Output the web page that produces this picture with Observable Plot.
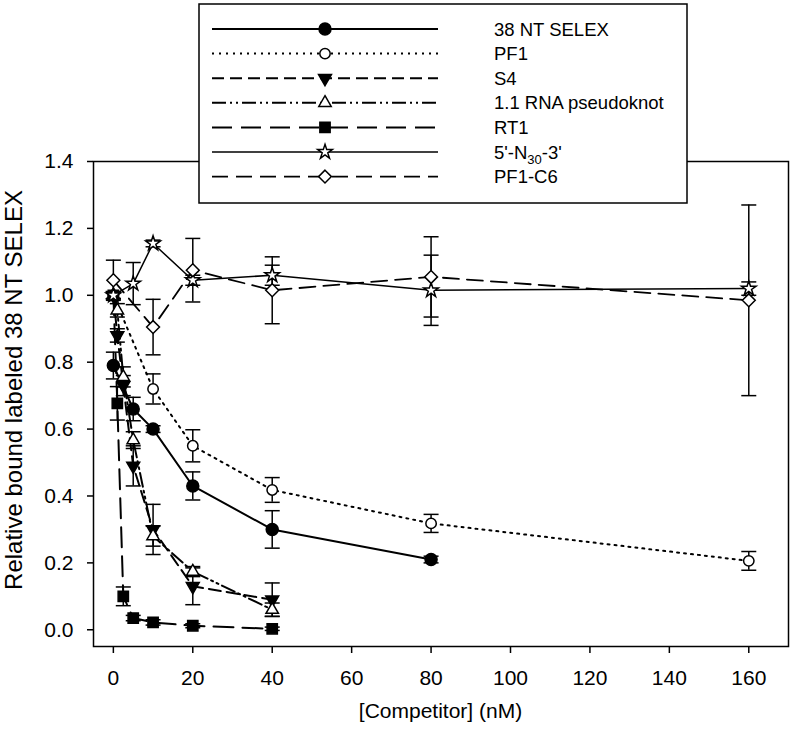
<!DOCTYPE html>
<html><head><meta charset="utf-8">
<script src="https://cdn.jsdelivr.net/npm/d3@7"></script>
<script src="https://cdn.jsdelivr.net/npm/@observablehq/plot@0.6"></script>
<style>body{margin:0;background:#fff}#chart{width:792px;height:738px}</style>
</head><body><div id="chart"></div>
<script>
// ---- data ----
const seriesNames = ["38 NT SELEX", "PF1", "S4", "1.1 RNA pseudoknot", "RT1", "5'-N30-3'", "PF1-C6"];
const xTicks = [0, 20, 40, 60, 80, 100, 120, 140, 160];
const yTicks = [0.0, 0.2, 0.4, 0.6, 0.8, 1.0, 1.2, 1.4];
const xLabel = "[Competitor] (nM)";
const yLabel = "Relative bound labeled 38 NT SELEX";

const sel38X = [0, 5, 10, 20, 40, 80];
const sel38Y = [0.79, 0.66, 0.60, 0.43, 0.30, 0.21];
const sel38E = [0.04, 0.035, 0.01, 0.042, 0.056, 0.01];

const pf1X = [0, 10, 20, 40, 80, 160];
const pf1Y = [1.0, 0.72, 0.55, 0.418, 0.318, 0.206];
const pf1E = [0.0, 0.045, 0.048, 0.037, 0.027, 0.028];

const s4X = [0, 1, 2.5, 5, 10, 20, 40];
const s4Y = [1.0, 0.88, 0.73, 0.49, 0.30, 0.13, 0.09];
const s4E = [0.01, 0.02, 0.03, 0.06, 0.075, 0.055, 0.05];

const rnaX = [0, 1, 2.5, 5, 10, 20, 40];
const rnaY = [1.0, 0.955, 0.756, 0.567, 0.28, 0.174, 0.06];
const rnaE = [0.01, 0.02, 0.03, 0.025, 0.03, 0.015, 0.02];

const rt1X = [0, 1, 2.5, 5, 10, 20, 40];
const rt1Y = [1.0, 0.677, 0.10, 0.035, 0.022, 0.012, 0.003];
const rt1E = [0.01, 0.05, 0.028, 0.008, 0.008, 0.006, 0.005];

const n30X = [0, 5, 10, 20, 40, 80, 160];
const n30Y = [1.0, 1.035, 1.155, 1.045, 1.06, 1.015, 1.02];
const n30E = [0.01, 0.063, 0.01, 0.015, 0.03, 0.105, 0.02];

const c6X = [0, 10, 20, 40, 80, 160];
const c6Y = [1.045, 0.905, 1.075, 1.015, 1.055, 0.985];
const c6E = [0.06, 0.083, 0.095, 0.1, 0.12, 0.285];

const seriesData = [
  [sel38X, sel38Y, sel38E], [pf1X, pf1Y, pf1E], [s4X, s4Y, s4E], [rnaX, rnaY, rnaE],
  [rt1X, rt1Y, rt1E], [n30X, n30Y, n30E], [c6X, c6Y, c6E]
];

// ---- styles ----
const triDown = {draw(ctx, size) {
  const y = -Math.sqrt(size / (Math.sqrt(3) * 3));
  ctx.moveTo(0, -y * 2); ctx.lineTo(-Math.sqrt(3) * y, y); ctx.lineTo(Math.sqrt(3) * y, y); ctx.closePath();
}};
const cap = {draw(ctx) { ctx.moveTo(-7.5, 0); ctx.lineTo(7.5, 0); }};
const symMap = {circle: d3.symbolCircle, triangle: d3.symbolTriangle, square: d3.symbolSquare, star: d3.symbolStar, diamond2: d3.symbolDiamond2};

const styles = [
  {symbol: "circle", fill: "black", r: 6, dash: null, sw: 2},
  {symbol: "circle", fill: "white", r: 5.2, dash: "2,5", sw: 2},
  {symbol: triDown, fill: "black", r: 4.8, dash: "12,6", sw: 2},
  {symbol: "triangle", fill: "white", r: 4.6, dash: "14,4,2,4,2,4", sw: 2},
  {symbol: "square", fill: "black", r: 5.8, dash: "20,9", sw: 2},
  {symbol: "star", fill: "white", r: 4.6, dash: null, sw: 1.5},
  {symbol: "diamond2", fill: "white", r: 5.8, dash: "16,8", sw: 1.8}
];

const rows = seriesNames.map((name, i) => seriesData[i][0].map((x, j) => ({
  name, x, y: seriesData[i][1][j], e: seriesData[i][2][j]
})));

const marks = [];
rows.forEach((data, i) => {
  const s = styles[i];
  marks.push(Plot.line(data, {x: "x", y: "y", stroke: "black", strokeWidth: s.sw, strokeDasharray: s.dash}));
});
rows.forEach((data, i) => {
  const eb = data.filter(d => d.e > 0);
  marks.push(Plot.ruleX(eb, {x: "x", y1: d => d.y - d.e, y2: d => d.y + d.e, stroke: "black", strokeWidth: 1.5}));
  marks.push(Plot.dot(eb, {x: "x", y: d => d.y - d.e, symbol: cap, stroke: "black", strokeWidth: 1.5, fill: "none"}));
  marks.push(Plot.dot(eb, {x: "x", y: d => d.y + d.e, symbol: cap, stroke: "black", strokeWidth: 1.5, fill: "none"}));
});
rows.forEach((data, i) => {
  const s = styles[i];
  marks.push(Plot.dot(data, {x: "x", y: "y", symbol: s.symbol, r: s.r, fill: s.fill, stroke: "black", strokeWidth: 1.5}));
});

const plot = Plot.plot({
  width: 792, height: 738,
  marginTop: 161, marginRight: 4, marginBottom: 92, marginLeft: 93,
  style: {fontFamily: "'Liberation Sans', Arial, sans-serif", fontSize: "21px", background: "white", color: "black"},
  x: {domain: [-5, 170]},
  y: {domain: [-0.05, 1.4]},
  marks: [
    Plot.frame({stroke: "black", strokeWidth: 1.5}),
    Plot.axisX({ticks: xTicks, tickSize: 7, tickPadding: 17, label: null, tickFormat: d3.format("d"), strokeWidth: 1.5}),
    Plot.axisY({ticks: yTicks, tickSize: 6, tickPadding: 14, label: null, tickFormat: d3.format(".1f"), strokeWidth: 1.5}),
    ...marks
  ]
});
document.getElementById("chart").appendChild(plot);

// ---- axis titles & legend ----
const svg = d3.select(plot);
svg.append("text").attr("x", 93 + (792 - 4 - 93) / 2).attr("y", 718)
  .attr("text-anchor", "middle").style("font-size", "21px").attr("fill", "black").text(xLabel);
svg.append("text").attr("transform", "translate(22,390) rotate(-90)")
  .attr("text-anchor", "middle").style("font-size", "24px").attr("fill", "black").text(yLabel);

const lg = svg.append("g");
lg.append("rect").attr("x", 199).attr("y", 4).attr("width", 488).attr("height", 199)
  .attr("fill", "white").attr("stroke", "black").attr("stroke-width", 1.5);
seriesNames.forEach((name, i) => {
  const s = styles[i];
  const yy = 29 + i * 24.6;
  lg.append("line").attr("x1", 212).attr("x2", 438).attr("y1", yy).attr("y2", yy)
    .attr("stroke", "black").attr("stroke-width", s.sw).attr("stroke-dasharray", s.dash);
  const type = typeof s.symbol === "string" ? symMap[s.symbol] : s.symbol;
  lg.append("path").attr("d", d3.symbol(type, Math.PI * s.r * s.r)())
    .attr("transform", `translate(325,${yy})`).attr("fill", s.fill).attr("stroke", "black").attr("stroke-width", 1.5);
  const t = lg.append("text").attr("x", 494).attr("y", yy + 6.5).attr("text-anchor", "start")
    .style("font-size", "18.5px").attr("fill", "black");
  if (name === "5'-N30-3'") {
    t.append("tspan").text("5'-N");
    t.append("tspan").attr("dy", 5).style("font-size", "13px").text("30");
    t.append("tspan").attr("dy", -5).text("-3'");
  } else t.text(name);
});
</script></body></html>
